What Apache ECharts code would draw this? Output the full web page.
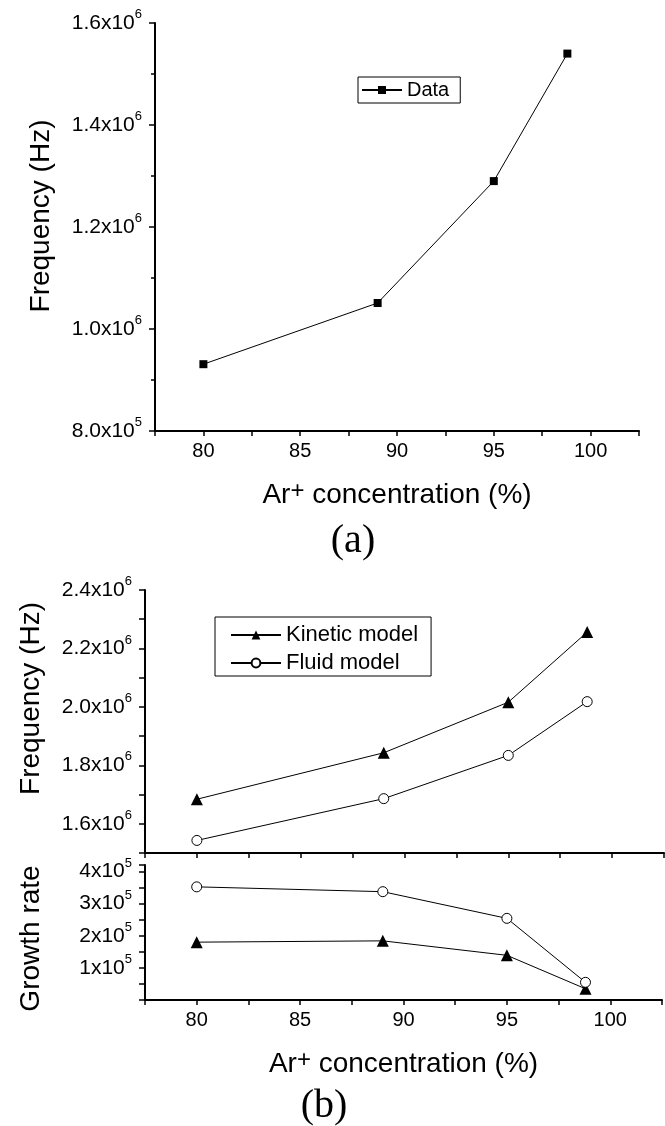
<!DOCTYPE html>
<html>
<head>
<meta charset="utf-8">
<title>Frequency vs Ar+ concentration</title>
<script src="https://cdn.jsdelivr.net/npm/echarts@6/dist/echarts.min.js"></script>
<style>
html, body { margin: 0; padding: 0; background: #fff; }
#main { width: 665px; height: 1126px; }
</style>
</head>
<body>
<div id="main"></div>
<script>
// Ar+ concentration (%)
var conc = [80, 89, 95, 98.8];
// panel (a): measured frequency
var freqData = [0.931e6, 1.051e6, 1.290e6, 1.540e6];
// panel (b): model frequencies and growth rates
var freqKinetic = [1.684e6, 1.843e6, 2.016e6, 2.256e6];
var freqFluid = [1.543e6, 1.686e6, 1.834e6, 2.018e6];
var growthKinetic = [1.80e5, 1.84e5, 1.39e5, 0.35e5];
var growthFluid = [3.52e5, 3.37e5, 2.54e5, 0.55e5];

// tick labels
var xTicks = [80, 85, 90, 95, 100];
var freqTicksA = [8.0e5, 1.0e6, 1.2e6, 1.4e6, 1.6e6];
var freqLabelsA = ['8.0x10^5', '1.0x10^6', '1.2x10^6', '1.4x10^6', '1.6x10^6'];
var freqTicksB = [1.6e6, 1.8e6, 2.0e6, 2.2e6, 2.4e6];
var freqLabelsB = ['1.6x10^6', '1.8x10^6', '2.0x10^6', '2.2x10^6', '2.4x10^6'];
var growthTicks = [1e5, 2e5, 3e5, 4e5];
var growthLabels = ['1x10^5', '2x10^5', '3x10^5', '4x10^5'];

var FONT = '"Liberation Sans", Arial, sans-serif';

function pairs(xs, ys) {
    return xs.map(function (x, i) { return [x, ys[i]]; });
}

function sciLabel(ticks, labels) {
    return function (v) {
        for (var i = 0; i < ticks.length; i++) {
            if (Math.abs(v - ticks[i]) < 1) {
                var p = labels[i].split('^');
                return '{m|' + p[0] + '}{e|' + p[1] + '}';
            }
        }
        return '';
    };
}

function xLabel(v) {
    for (var i = 0; i < xTicks.length; i++) {
        if (Math.abs(v - xTicks[i]) < 1e-6) return String(xTicks[i]);
    }
    return '';
}

var sciRich = {
    m: { fontSize: 21, fontFamily: FONT, color: '#000', lineHeight: 30 },
    e: { fontSize: 13, fontFamily: FONT, color: '#000', lineHeight: 6, verticalAlign: 'top' }
};

var nameRich = {
    n: { fontSize: 28, fontFamily: FONT, color: '#000', lineHeight: 32 },
    s: { fontSize: 24, fontFamily: FONT, color: '#000', lineHeight: 2, verticalAlign: 'top' }
};

var axisLine = { show: true, onZero: false, lineStyle: { color: '#000', width: 2 } };

function xAxis(grid, withLabels) {
    return {
        type: 'value',
        gridIndex: grid,
        min: 77.5,
        max: 102.5,
        interval: 2.5,
        axisLine: axisLine,
        axisTick: { show: true, inside: false, length: 5, lineStyle: { color: '#000', width: 1.5 } },
        axisLabel: {
            show: withLabels,
            formatter: xLabel,
            fontSize: 20,
            fontFamily: FONT,
            color: '#000',
            margin: 10
        },
        splitLine: { show: false },
        name: withLabels ? '{n|Ar}{s|+}{n| concentration (%)}' : '',
        nameLocation: 'middle',
        nameGap: 48,
        nameTextStyle: { rich: nameRich }
    };
}

function yAxis(grid, min, max, interval, ticks, labels, name, namePad) {
    return {
        type: 'value',
        gridIndex: grid,
        min: min,
        max: max,
        interval: interval,
        axisLine: axisLine,
        axisTick: { show: true, inside: false, length: 6, lineStyle: { color: '#000', width: 1.5 } },
        axisLabel: {
            formatter: sciLabel(ticks, labels),
            margin: 13,
            rich: sciRich
        },
        splitLine: { show: false },
        name: name,
        nameLocation: 'middle',
        nameGap: 100,
        nameTextStyle: { fontSize: 28, fontFamily: FONT, color: '#000', padding: namePad }
    };
}

var chart = echarts.init(document.getElementById('main'));

var option = {
    backgroundColor: '#fff',
    animation: false,
    grid: [
        { left: 155, top: 23, width: 484, height: 408 },
        { left: 145, top: 590, width: 519, height: 263 },
        { left: 145, top: 865, width: 519, height: 135 }
    ],
    xAxis: [xAxis(0, true), xAxis(1, false), xAxis(2, true)],
    yAxis: [
        Object.assign(yAxis(0, 0.8e6, 1.6e6, 0.2e6, freqTicksA, freqLabelsA, 'Frequency (Hz)', [0, 0, 0, 22]), {
            minorTick: { show: true, splitNumber: 2, length: 4, lineStyle: { color: '#000', width: 1.5 } }
        }),
        yAxis(1, 1.5e6, 2.4e6, 1e5, freqTicksB, freqLabelsB, 'Frequency (Hz)', [0, 0, 0, 46]),
        yAxis(2, 0, 4.2e5, 0.5e5, growthTicks, growthLabels, 'Growth rate', [0, 12, 0, 0])
    ],
    legend: [
        {
            data: ['Data'],
            orient: 'vertical',
            left: 358,
            top: 77,
            padding: [3, 11, 3, 3],
            itemWidth: 40,
            itemHeight: 10,
            itemGap: 0,
            selectedMode: false,
            borderColor: '#000',
            borderWidth: 1,
            textStyle: { fontSize: 20, fontFamily: FONT, color: '#000', lineHeight: 20 }
        },
        {
            data: ['Kinetic model', 'Fluid model'],
            orient: 'vertical',
            left: 215,
            top: 617,
            padding: [7, 13, 2, 15],
            itemWidth: 50,
            itemHeight: 11,
            itemGap: 6,
            selectedMode: false,
            borderColor: '#000',
            borderWidth: 1,
            textStyle: { fontSize: 22, fontFamily: FONT, color: '#000', lineHeight: 22 }
        }
    ],
    graphic: [
        {
            type: 'text', x: 353, y: 541,
            style: { text: '(a)', font: '40px "Liberation Serif", serif', fill: '#000', textAlign: 'center', textVerticalAlign: 'middle' }
        },
        {
            type: 'text', x: 324, y: 1106,
            style: { text: '(b)', font: '40px "Liberation Serif", serif', fill: '#000', textAlign: 'center', textVerticalAlign: 'middle' }
        }
    ],
    series: [
        {
            name: 'Data', type: 'line', xAxisIndex: 0, yAxisIndex: 0,
            data: pairs(conc, freqData),
            symbol: 'rect', symbolSize: 8,
            itemStyle: { color: '#000' },
            lineStyle: { color: '#000', width: 1 }
        },
        {
            name: 'Kinetic model', type: 'line', xAxisIndex: 1, yAxisIndex: 1,
            data: pairs(conc, freqKinetic),
            symbol: 'triangle', symbolSize: 12,
            itemStyle: { color: '#000' },
            lineStyle: { color: '#000', width: 1 }
        },
        {
            name: 'Fluid model', type: 'line', xAxisIndex: 1, yAxisIndex: 1,
            data: pairs(conc, freqFluid),
            symbol: 'circle', symbolSize: 10,
            itemStyle: { color: '#fff', borderColor: '#000', borderWidth: 1 },
            lineStyle: { color: '#000', width: 1 }
        },
        {
            name: 'Kinetic model', type: 'line', xAxisIndex: 2, yAxisIndex: 2,
            data: pairs(conc, growthKinetic),
            symbol: 'triangle', symbolSize: 12,
            itemStyle: { color: '#000' },
            lineStyle: { color: '#000', width: 1 }
        },
        {
            name: 'Fluid model', type: 'line', xAxisIndex: 2, yAxisIndex: 2,
            data: pairs(conc, growthFluid),
            symbol: 'circle', symbolSize: 10,
            itemStyle: { color: '#fff', borderColor: '#000', borderWidth: 1 },
            lineStyle: { color: '#000', width: 1 }
        }
    ]
};

chart.setOption(option);
</script>
</body>
</html>
